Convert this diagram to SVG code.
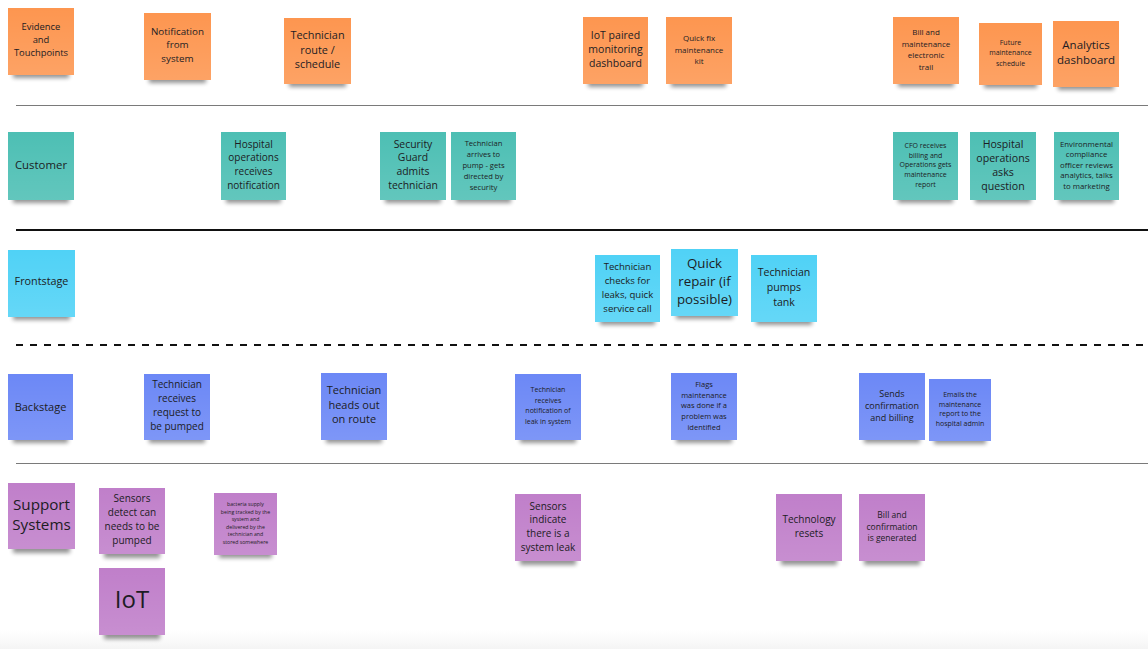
<svg xmlns="http://www.w3.org/2000/svg" width="1148" height="649" viewBox="0 0 1148 649">
<defs>
<filter id="blur" x="-20%" y="-100%" width="140%" height="300%"><feGaussianBlur stdDeviation="2.2"/></filter>
<linearGradient id="gl" x1="0" y1="0" x2="0" y2="1"><stop offset="0" stop-color="#fff" stop-opacity="0"/><stop offset="1" stop-color="#fff" stop-opacity="0.12"/></linearGradient>
<linearGradient id="bot" x1="0" y1="0" x2="0" y2="1"><stop offset="0" stop-color="#f6f6f6" stop-opacity="0"/><stop offset="1" stop-color="#f4f4f4"/></linearGradient>
</defs>
<style>
.sh{fill:#000;opacity:.42;filter:url(#blur)}
.hl{fill:url(#gl)}
.or{fill:#fd9650}
.te{fill:#4dbfb4}
.cy{fill:#50d2f6}
.bl{fill:#6c88f6}
.pu{fill:#c07fca}
text{font-family:"Open Sans","Noto Sans","Liberation Sans",sans-serif;fill:#1c1c24;text-anchor:middle}
.lane{stroke:#7a7a7a;stroke-width:1.2}
.lane2{stroke:#111;stroke-width:2}
.dash{stroke:#111;stroke-width:2;stroke-dasharray:7 7}
</style>
<rect x="0" y="0" width="1148" height="649" fill="#fff"/>
<rect x="0" y="630" width="1148" height="19" fill="url(#bot)"/>
<g id="connectors">
<line class="lane" x1="16" y1="105.5" x2="1148" y2="105.5"/>
<line class="lane2" x1="16" y1="230" x2="1148" y2="230"/>
<line class="dash" x1="16" y1="345" x2="1148" y2="345"/>
<line class="lane" x1="16" y1="463.5" x2="1148" y2="463.5"/>
</g>
<!-- Evidence row -->
<g id="n-evidence"><rect class="sh" x="13" y="66" width="56" height="12"/><rect class="or" x="8" y="8" width="66" height="67"/><rect class="hl" x="8" y="8" width="66" height="67"/>
<text font-size="9.4"><tspan x="41" y="30">Evidence</tspan><tspan x="41" y="43">and</tspan><tspan x="41" y="56">Touchpoints</tspan></text></g>
<g id="n-notification"><rect class="sh" x="149" y="71" width="57" height="12"/><rect class="or" x="144" y="13" width="67" height="67"/><rect class="hl" x="144" y="13" width="67" height="67"/>
<text font-size="9.8"><tspan x="177.5" y="34.5">Notification</tspan><tspan x="177.5" y="48">from</tspan><tspan x="177.5" y="62">system</tspan></text></g>
<g id="n-route"><rect class="sh" x="289" y="75" width="57" height="12"/><rect class="or" x="284" y="18" width="67" height="66"/><rect class="hl" x="284" y="18" width="67" height="66"/>
<text font-size="10.9"><tspan x="317.5" y="38.5">Technician</tspan><tspan x="317.5" y="53.5">route /</tspan><tspan x="317.5" y="67.5">schedule</tspan></text></g>
<g id="n-iot-dash"><rect class="sh" x="588" y="75" width="55" height="12"/><rect class="or" x="583" y="17" width="65" height="67"/><rect class="hl" x="583" y="17" width="65" height="67"/>
<text font-size="10.5"><tspan x="615.5" y="39">IoT paired</tspan><tspan x="615.5" y="53">monitoring</tspan><tspan x="615.5" y="66.5">dashboard</tspan></text></g>
<g id="n-quickfix"><rect class="sh" x="671" y="75" width="55" height="12"/><rect class="or" x="666" y="17" width="66" height="67"/><rect class="hl" x="666" y="17" width="66" height="67"/>
<text font-size="8"><tspan x="699" y="40.5">Quick fix</tspan><tspan x="699" y="52.5">maintenance</tspan><tspan x="699" y="64">kit</tspan></text></g>
<g id="n-billtrail"><rect class="sh" x="898" y="75" width="56" height="12"/><rect class="or" x="893" y="17" width="66" height="67"/><rect class="hl" x="893" y="17" width="66" height="67"/>
<text font-size="8"><tspan x="926" y="35">Bill and</tspan><tspan x="926" y="46.5">maintenance</tspan><tspan x="926" y="58">electronic</tspan><tspan x="926" y="69.5">trail</tspan></text></g>
<g id="n-future"><rect class="sh" x="984" y="76" width="53" height="12"/><rect class="or" x="979" y="23" width="63" height="62"/><rect class="hl" x="979" y="23" width="63" height="62"/>
<text font-size="7"><tspan x="1010.5" y="44.5">Future</tspan><tspan x="1010.5" y="55">maintenance</tspan><tspan x="1010.5" y="65.5">schedule</tspan></text></g>
<g id="n-analytics"><rect class="sh" x="1058" y="78" width="56" height="12"/><rect class="or" x="1053" y="21" width="66" height="66"/><rect class="hl" x="1053" y="21" width="66" height="66"/>
<text font-size="11.5"><tspan x="1086" y="48.5">Analytics</tspan><tspan x="1086" y="63.5">dashboard</tspan></text></g>
<!-- Customer row -->
<g id="n-customer"><rect class="sh" x="13" y="191" width="56" height="12"/><rect class="te" x="8" y="132" width="66" height="68"/><rect class="hl" x="8" y="132" width="66" height="68"/>
<text font-size="11.4"><tspan x="41" y="168.5">Customer</tspan></text></g>
<g id="n-hosp-notif"><rect class="sh" x="226" y="191" width="55" height="12"/><rect class="te" x="221" y="132" width="65" height="68"/><rect class="hl" x="221" y="132" width="65" height="68"/>
<text font-size="10"><tspan x="253.5" y="147.5">Hospital</tspan><tspan x="253.5" y="161">operations</tspan><tspan x="253.5" y="175">receives</tspan><tspan x="253.5" y="189">notification</tspan></text></g>
<g id="n-security"><rect class="sh" x="385" y="191" width="56" height="12"/><rect class="te" x="380" y="132" width="66" height="68"/><rect class="hl" x="380" y="132" width="66" height="68"/>
<text font-size="10.4"><tspan x="413" y="147.5">Security</tspan><tspan x="413" y="161">Guard</tspan><tspan x="413" y="175">admits</tspan><tspan x="413" y="189">technician</tspan></text></g>
<g id="n-arrives"><rect class="sh" x="456" y="191" width="55" height="12"/><rect class="te" x="451" y="132" width="65" height="68"/><rect class="hl" x="451" y="132" width="65" height="68"/>
<text font-size="7.6"><tspan x="483.5" y="146">Technician</tspan><tspan x="483.5" y="157">arrives to</tspan><tspan x="483.5" y="167.5">pump - gets</tspan><tspan x="483.5" y="178.5">directed by</tspan><tspan x="483.5" y="189.5">security</tspan></text></g>
<g id="n-cfo"><rect class="sh" x="898" y="191" width="55" height="12"/><rect class="te" x="893" y="132" width="65" height="68"/><rect class="hl" x="893" y="132" width="65" height="68"/>
<text font-size="7"><tspan x="925.5" y="147.5">CFO receives</tspan><tspan x="925.5" y="157.5">billing and</tspan><tspan x="925.5" y="167">Operations gets</tspan><tspan x="925.5" y="177">maintenance</tspan><tspan x="925.5" y="187">report</tspan></text></g>
<g id="n-hosp-asks"><rect class="sh" x="975" y="191" width="56" height="12"/><rect class="te" x="970" y="132" width="66" height="68"/><rect class="hl" x="970" y="132" width="66" height="68"/>
<text font-size="10.6"><tspan x="1003" y="148">Hospital</tspan><tspan x="1003" y="161.5">operations</tspan><tspan x="1003" y="175.5">asks</tspan><tspan x="1003" y="189.5">question</tspan></text></g>
<g id="n-environmental"><rect class="sh" x="1059" y="191" width="55" height="12"/><rect class="te" x="1054" y="132" width="65" height="68"/><rect class="hl" x="1054" y="132" width="65" height="68"/>
<text font-size="7.8"><tspan x="1086.5" y="146.5">Environmental</tspan><tspan x="1086.5" y="157">compliance</tspan><tspan x="1086.5" y="167.5">officer reviews</tspan><tspan x="1086.5" y="178">analytics, talks</tspan><tspan x="1086.5" y="189">to marketing</tspan></text></g>
<!-- Frontstage row -->
<g id="n-frontstage"><rect class="sh" x="13" y="308" width="57" height="12"/><rect class="cy" x="8" y="250" width="67" height="67"/><rect class="hl" x="8" y="250" width="67" height="67"/>
<text font-size="10.8"><tspan x="41.5" y="285">Frontstage</tspan></text></g>
<g id="n-checks"><rect class="sh" x="600" y="313" width="55" height="12"/><rect class="cy" x="595" y="255" width="65" height="67"/><rect class="hl" x="595" y="255" width="65" height="67"/>
<text font-size="9.6"><tspan x="627.5" y="269.5">Technician</tspan><tspan x="627.5" y="283.5">checks for</tspan><tspan x="627.5" y="297.5">leaks, quick</tspan><tspan x="627.5" y="311.5">service call</tspan></text></g>
<g id="n-quickrepair"><rect class="sh" x="676" y="307" width="57" height="12"/><rect class="cy" x="671" y="249" width="67" height="67"/><rect class="hl" x="671" y="249" width="67" height="67"/>
<text font-size="13.3"><tspan x="704.5" y="268">Quick</tspan><tspan x="704.5" y="286">repair (if</tspan><tspan x="704.5" y="303.5">possible)</tspan></text></g>
<g id="n-pumps"><rect class="sh" x="756" y="313" width="56" height="12"/><rect class="cy" x="751" y="255" width="66" height="67"/><rect class="hl" x="751" y="255" width="66" height="67"/>
<text font-size="10.6"><tspan x="784" y="276">Technician</tspan><tspan x="784" y="291">pumps</tspan><tspan x="784" y="305.5">tank</tspan></text></g>
<!-- Backstage row -->
<g id="n-backstage"><rect class="sh" x="13" y="431" width="55" height="12"/><rect class="bl" x="8" y="374" width="65" height="66"/><rect class="hl" x="8" y="374" width="65" height="66"/>
<text font-size="11"><tspan x="40.5" y="410.5">Backstage</tspan></text></g>
<g id="n-request"><rect class="sh" x="149" y="431" width="56" height="12"/><rect class="bl" x="144" y="374" width="66" height="66"/><rect class="hl" x="144" y="374" width="66" height="66"/>
<text font-size="10"><tspan x="177" y="388">Technician</tspan><tspan x="177" y="402">receives</tspan><tspan x="177" y="416">request to</tspan><tspan x="177" y="430">be pumped</tspan></text></g>
<g id="n-headsout"><rect class="sh" x="326" y="431" width="56" height="12"/><rect class="bl" x="321" y="373" width="66" height="67"/><rect class="hl" x="321" y="373" width="66" height="67"/>
<text font-size="11"><tspan x="354" y="394">Technician</tspan><tspan x="354" y="409">heads out</tspan><tspan x="354" y="423">on route</tspan></text></g>
<g id="n-leaknotif"><rect class="sh" x="520" y="431" width="56" height="12"/><rect class="bl" x="515" y="374" width="66" height="66"/><rect class="hl" x="515" y="374" width="66" height="66"/>
<text font-size="7"><tspan x="548" y="392">Technician</tspan><tspan x="548" y="402.5">receives</tspan><tspan x="548" y="413">notification of</tspan><tspan x="548" y="424">leak in system</tspan></text></g>
<g id="n-flags"><rect class="sh" x="676" y="431" width="56" height="12"/><rect class="bl" x="671" y="373" width="66" height="67"/><rect class="hl" x="671" y="373" width="66" height="67"/>
<text font-size="7.5"><tspan x="704" y="386.5">Flags</tspan><tspan x="704" y="397.5">maintenance</tspan><tspan x="704" y="408">was done if a</tspan><tspan x="704" y="419">problem was</tspan><tspan x="704" y="430">identified</tspan></text></g>
<g id="n-sends"><rect class="sh" x="864" y="431" width="56" height="12"/><rect class="bl" x="859" y="373" width="66" height="67"/><rect class="hl" x="859" y="373" width="66" height="67"/>
<text font-size="9"><tspan x="892" y="396.5">Sends</tspan><tspan x="892" y="408.5">confirmation</tspan><tspan x="892" y="420.5">and billing</tspan></text></g>
<g id="n-emails"><rect class="sh" x="934" y="432" width="52" height="12"/><rect class="bl" x="929" y="379" width="62" height="62"/><rect class="hl" x="929" y="379" width="62" height="62"/>
<text font-size="7"><tspan x="960" y="396.5">Emails the</tspan><tspan x="960" y="406.5">maintenance</tspan><tspan x="960" y="416">report to the</tspan><tspan x="960" y="425.5">hospital admin</tspan></text></g>
<!-- Support row -->
<g id="n-support"><rect class="sh" x="13" y="541" width="57" height="12"/><rect class="pu" x="8" y="483" width="67" height="66"/><rect class="hl" x="8" y="483" width="67" height="66"/>
<text font-size="15.2"><tspan x="41.5" y="509.5">Support</tspan><tspan x="41.5" y="529.5">Systems</tspan></text></g>
<g id="n-sensors-detect"><rect class="sh" x="104" y="546" width="56" height="12"/><rect class="pu" x="99" y="488" width="66" height="66"/><rect class="hl" x="99" y="488" width="66" height="66"/>
<text font-size="10"><tspan x="132" y="502">Sensors</tspan><tspan x="132" y="516">detect can</tspan><tspan x="132" y="530">needs to be</tspan><tspan x="132" y="544">pumped</tspan></text></g>
<g id="n-iot"><rect class="sh" x="104" y="627" width="56" height="12"/><rect class="pu" x="99" y="568" width="66" height="67"/><rect class="hl" x="99" y="568" width="66" height="67"/>
<text font-size="24"><tspan x="132" y="608">IoT</tspan></text></g>
<g id="n-bacteria"><rect class="sh" x="219" y="546" width="53" height="12"/><rect class="pu" x="214" y="493" width="63" height="62"/><rect class="hl" x="214" y="493" width="63" height="62"/>
<text font-size="5.2"><tspan x="245.5" y="506">bacteria supply</tspan><tspan x="245.5" y="513.5">being tracked by the</tspan><tspan x="245.5" y="521">system and</tspan><tspan x="245.5" y="528.5">delivered by the</tspan><tspan x="245.5" y="536">technician and</tspan><tspan x="245.5" y="543.5">stored somewhere</tspan></text></g>
<g id="n-sensors-leak"><rect class="sh" x="520" y="553" width="56" height="12"/><rect class="pu" x="515" y="494" width="66" height="67"/><rect class="hl" x="515" y="494" width="66" height="67"/>
<text font-size="10"><tspan x="548" y="509.5">Sensors</tspan><tspan x="548" y="523">indicate</tspan><tspan x="548" y="537">there is a</tspan><tspan x="548" y="551">system leak</tspan></text></g>
<g id="n-tech-resets"><rect class="sh" x="781" y="553" width="56" height="12"/><rect class="pu" x="776" y="494" width="66" height="67"/><rect class="hl" x="776" y="494" width="66" height="67"/>
<text font-size="10"><tspan x="809" y="523">Technology</tspan><tspan x="809" y="537">resets</tspan></text></g>
<g id="n-bill-generated"><rect class="sh" x="864" y="553" width="56" height="12"/><rect class="pu" x="859" y="494" width="66" height="67"/><rect class="hl" x="859" y="494" width="66" height="67"/>
<text font-size="8.5"><tspan x="892" y="518">Bill and</tspan><tspan x="892" y="529.5">confirmation</tspan><tspan x="892" y="541">is generated</tspan></text></g>
</svg>
